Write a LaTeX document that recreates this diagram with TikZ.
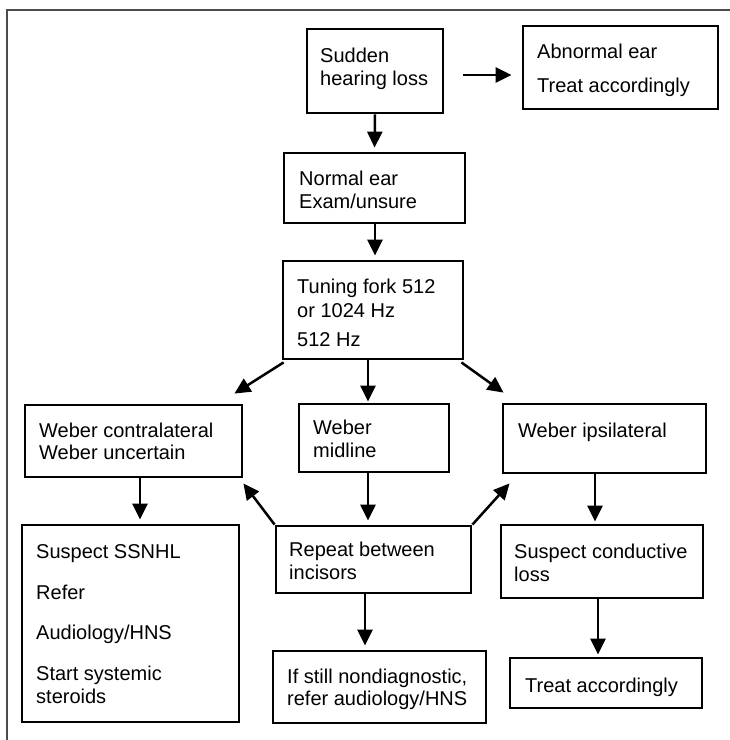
\documentclass[tikz,border=0pt]{standalone}
\usepackage{fontspec}
\setmainfont{Liberation Sans}
\usetikzlibrary{arrows.meta}
\begin{document}
\begin{tikzpicture}[x=1pt,y=-1pt,
  box/.style={draw=black,line width=2.8pt,inner sep=0pt,rectangle},
  txt/.style={anchor=base west,inner sep=0pt,font=\fontsize{20}{23}\selectfont},
  arr/.style={draw=black,line width=2.5pt,-{Triangle[length=16pt,width=15pt]}},
  frameline/.style={draw=black!70,line width=1.5pt}]
\useasboundingbox (0,0) rectangle (730,740);
\draw[frameline] (730,10) -- (7,10) -- (7,740);
% boxes
\node[box,minimum width=136pt,minimum height=84pt] (sud) at (375,71) {};
\node[box,minimum width=195pt,minimum height=83pt] (abn) at (620.5,67.5) {};
\node[box,minimum width=181pt,minimum height=70pt] (nor) at (374.5,188) {};
\node[box,minimum width=180pt,minimum height=98pt] (tun) at (373,310) {};
\node[box,minimum width=217pt,minimum height=72pt] (con) at (133.5,441) {};
\node[box,minimum width=150pt,minimum height=68pt] (mid) at (374,438) {};
\node[box,minimum width=203pt,minimum height=69pt] (ips) at (604.5,438.5) {};
\node[box,minimum width=217pt,minimum height=197pt] (ssn) at (130.5,623.5) {};
\node[box,minimum width=195pt,minimum height=67pt] (rep) at (373.5,559.5) {};
\node[box,minimum width=202pt,minimum height=73pt] (cdu) at (602,561.5) {};
\node[box,minimum width=213pt,minimum height=72pt] (ifs) at (379.5,687) {};
\node[box,minimum width=192pt,minimum height=50pt] (trt) at (606,683) {};
% texts
\node[txt] (sud1) at (320,62) {Sudden};
\node[txt] (sud2) at (320,85) {hearing loss};
\node[txt] (abn1) at (537,58) {Abnormal ear};
\node[txt] (abn2) at (537,92) {Treat accordingly};
\node[txt] (nor1) at (299,185) {Normal ear};
\node[txt] (nor2) at (299,208) {Exam/unsure};
\node[txt] (tun1) at (297,293) {Tuning fork 512};
\node[txt] (tun2) at (297,317) {or 1024 Hz};
\node[txt] (tun3) at (297,346) {512 Hz};
\node[txt] (con1) at (39,437) {Weber contralateral};
\node[txt] (con2) at (39,459) {Weber uncertain};
\node[txt] (mid1) at (313,434) {Weber};
\node[txt] (mid2) at (313,457) {midline};
\node[txt] (ips1) at (518,437) {Weber ipsilateral};
\node[txt] (ssn1) at (36,558) {Suspect SSNHL};
\node[txt] (ssn2) at (36,599) {Refer};
\node[txt] (ssn3) at (36,639) {Audiology/HNS};
\node[txt] (ssn4) at (36,680) {Start systemic};
\node[txt] (ssn5) at (36,703) {steroids};
\node[txt] (rep1) at (289,556) {Repeat between};
\node[txt] (rep2) at (289,579) {incisors};
\node[txt] (cdu1) at (514,558) {Suspect conductive};
\node[txt] (cdu2) at (514,581) {loss};
\node[txt] (ifs1) at (287,683) {If still nondiagnostic,};
\node[txt] (ifs2) at (287,705) {refer audiology/HNS};
\node[txt] (trt1) at (525,692) {Treat accordingly};
% connectors
\draw[arr,line width=2.8pt] ([xshift=19pt,yshift=-4pt]sud.east) -- ([xshift=-10pt,yshift=-7.5pt]abn.west);
\draw[arr,shorten >=4pt] (sud.south) -- (nor.north);
\draw[arr,shorten >=4pt] ([xshift=0.5pt]nor.south) -- ([xshift=2pt]tun.north);
\draw[arr] ([shift={(2pt,-2pt)}]tun.south west) -- ([shift={(-9pt,10pt)}]con.north east);
\draw[arr,shorten >=1pt] ([xshift=-5pt]tun.south) -- ([xshift=-5pt]tun.south |- mid.north);
\draw[arr] ([shift={(-3pt,-2pt)}]tun.south east) -- ([shift={(2pt,10pt)}]ips.north west);
\draw[arr,shorten >=4pt] ([xshift=6.5pt]con.south) -- ([xshift=6.5pt]con.south |- ssn.north);
\draw[arr,shorten >=4pt] ([xshift=-6pt]mid.south) -- ([xshift=-6pt]mid.south |- rep.north);
\draw[arr] (rep.north west) -- ([yshift=-5pt]con.south east);
\draw[arr] (rep.north east) -- ([shift={(8pt,-9pt)}]ips.south west);
\draw[arr,shorten >=4pt] ([xshift=-8.5pt]rep.south) -- ([xshift=-8.5pt]rep.south |- ifs.north);
\draw[arr,shorten >=2pt] ([xshift=-9.5pt]ips.south) -- ([xshift=-9.5pt]ips.south |- cdu.north);
\draw[arr,shorten >=2pt] ([xshift=-4pt]cdu.south) -- ([xshift=-4pt]cdu.south |- trt.north);
\end{tikzpicture}
\end{document}
